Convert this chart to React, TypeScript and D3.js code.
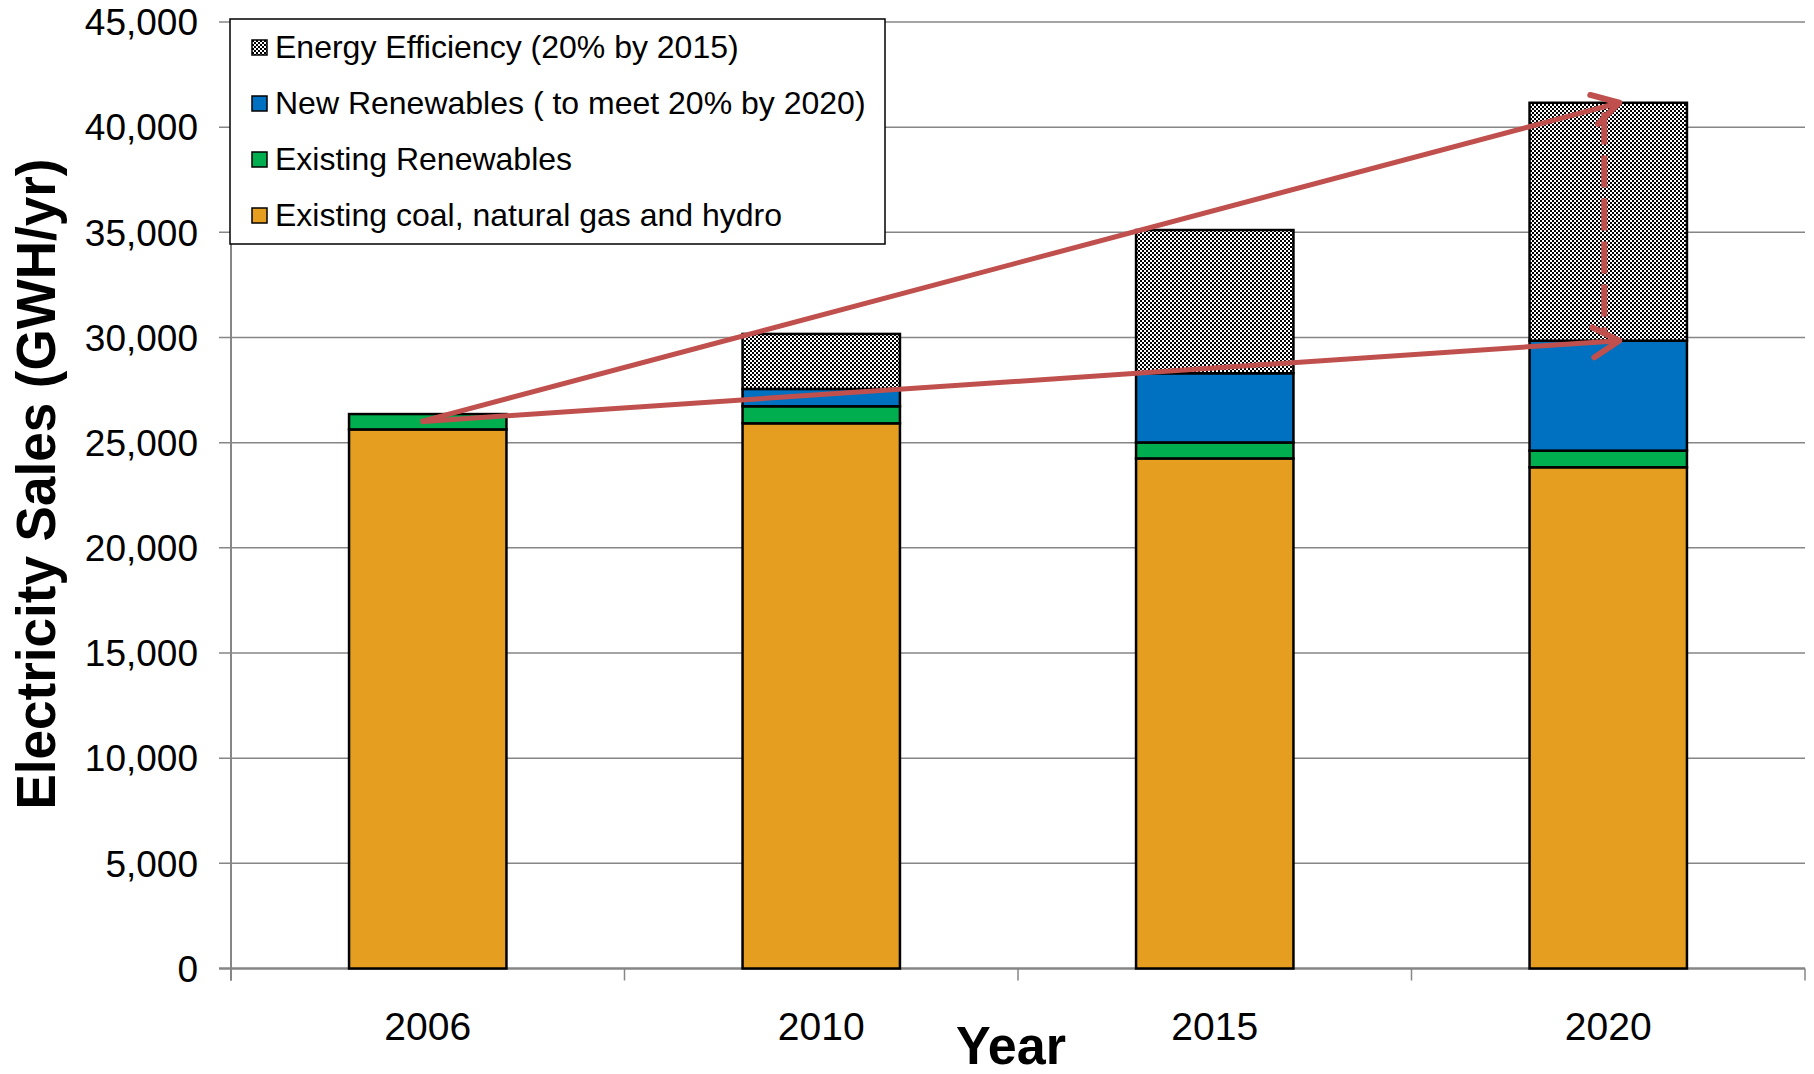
import React, { useEffect } from "react"
import * as d3 from "d3"

// categories and stacked values (GWH/yr)
const years = ["2006", "2010", "2015", "2020"]
const coalGasHydro = [25630, 25920, 24250, 23830]
const existingRenewables = [730, 810, 760, 790]
const newRenewables = [0, 825, 3290, 5230]
const energyEfficiency = [0, 2615, 6810, 11310]

const seriesKeys = ["coal", "existingRen", "newRen", "efficiency"]
const seriesNames: Record<string, string> = {
  efficiency: "Energy Efficiency (20% by 2015)",
  newRen: "New Renewables ( to meet 20% by 2020)",
  existingRen: "Existing Renewables",
  coal: "Existing coal, natural gas and hydro",
}
const legendOrder = ["efficiency", "newRen", "existingRen", "coal"]

const yTicks = [0, 5000, 10000, 15000, 20000, 25000, 30000, 35000, 40000, 45000]

// red trend annotations (data space)
const trendStart = { year: "2006", value: 26000 }
const trendEnds = [
  { year: "2020", value: 41160 },
  { year: "2020", value: 29850 },
]
const efficiencyGap = { year: "2020", from: 40700, to: 30200 }

const W = 1814
const H = 1074
const margin = { top: 22, right: 9, bottom: 105.5, left: 231 }
const FONT = "'Liberation Sans', Arial, sans-serif"
const GRID = "#868686"
const RED = "#C0504D"

const fills: Record<string, string> = {
  coal: "#E59E1F",
  existingRen: "#00AE50",
  newRen: "#0070C0",
  efficiency: "url(#checker)",
}

export default function App() {
  useEffect(() => {
    document.body.style.margin = "0"
  }, [])

  const rows = years.map((year, i) => ({
    year,
    coal: coalGasHydro[i],
    existingRen: existingRenewables[i],
    newRen: newRenewables[i],
    efficiency: energyEfficiency[i],
  }))
  const stacked = d3.stack<any>().keys(seriesKeys)(rows)

  const x = d3
    .scaleBand<string>()
    .domain(years)
    .range([margin.left, W - margin.right])
    .paddingInner(0.6)
    .paddingOuter(0.3)
  const y = d3
    .scaleLinear()
    .domain([0, 45000])
    .range([H - margin.bottom, margin.top])

  const xCenter = (yr: string) => (x(yr) as number) + x.bandwidth() / 2
  const y0 = y(0)
  const step = x.step()
  const boundaries = d3.range(years.length + 1).map((i) => margin.left + i * step)

  return (
    <svg width={W} height={H} style={{ display: "block", fontFamily: FONT }}>
      <defs>
        <pattern id="checker" width={4} height={4} patternUnits="userSpaceOnUse">
          <rect width={4} height={4} fill="#fff" />
          <rect width={2} height={2} fill="#000" />
          <rect x={2} y={2} width={2} height={2} fill="#000" />
        </pattern>
        <marker
          id="head"
          markerUnits="userSpaceOnUse"
          viewBox="-34 -22 40 44"
          markerWidth={40}
          markerHeight={44}
          refX={0}
          refY={0}
          orient="auto"
        >
          <path
            d="M-26,-15L0,0L-26,15"
            fill="none"
            stroke={RED}
            strokeWidth={6}
            strokeLinecap="round"
            strokeLinejoin="round"
          />
        </marker>
      </defs>

      {/* gridlines */}
      {yTicks.map((t) => (
        <line
          key={t}
          x1={margin.left - 12}
          x2={W - margin.right}
          y1={y(t)}
          y2={y(t)}
          stroke={GRID}
          strokeWidth={t === 0 ? 2.5 : 1.5}
        />
      ))}

      {/* y axis */}
      <line x1={margin.left} x2={margin.left} y1={margin.top} y2={y0 + 12} stroke={GRID} strokeWidth={2} />
      {yTicks.map((t) => (
        <text key={t} x={margin.left - 33} y={y(t)} dy="0.36em" textAnchor="end" fontSize={37} fill="#000">
          {d3.format(",")(t)}
        </text>
      ))}

      {/* x axis ticks */}
      {boundaries.map((bx, i) => (
        <line key={i} x1={bx} x2={bx} y1={y0} y2={y0 + 12} stroke={GRID} strokeWidth={1.5} />
      ))}
      {years.map((yr) => (
        <text key={yr} x={xCenter(yr)} y={1040} textAnchor="middle" fontSize={39} fill="#000">
          {yr}
        </text>
      ))}

      {/* stacked bars */}
      {stacked.map((layer) => (
        <g key={layer.key}>
          {layer
            .filter((d) => d[1] - d[0] > 0)
            .map((d) => (
              <rect
                key={d.data.year}
                x={x(d.data.year)}
                y={y(d[1])}
                width={x.bandwidth()}
                height={y(d[0]) - y(d[1])}
                fill={fills[layer.key]}
                stroke="#000"
                strokeWidth={2.5}
              />
            ))}
        </g>
      ))}

      {/* axis titles */}
      <text
        transform={`translate(55,484) rotate(-90)`}
        textAnchor="middle"
        fontSize={56}
        fontWeight="bold"
        textLength={651}
        lengthAdjust="spacingAndGlyphs"
        fill="#000"
      >
        Electricity Sales (GWH/yr)
      </text>
      <text
        x={1011}
        y={1064}
        textAnchor="middle"
        fontSize={53}
        fontWeight="bold"
        textLength={110}
        lengthAdjust="spacingAndGlyphs"
        fill="#000"
      >
        Year
      </text>

      {/* legend */}
      <g>
        <rect x={230} y={19} width={655} height={225} fill="#fff" stroke="#000" strokeWidth={1.5} />
        {legendOrder.map((k, i) => {
          const base = 58 + i * 56
          return (
            <g key={k}>
              <rect
                x={252}
                y={base - 18}
                width={15}
                height={15}
                fill={fills[k]}
                stroke="#000"
                strokeWidth={1.5}
              />
              <text x={275} y={base} fontSize={32} fill="#000">
                {seriesNames[k]}
              </text>
            </g>
          )
        })}
      </g>

      {/* trend arrows */}
      {trendEnds.map((e, i) => (
        <line
          key={i}
          x1={xCenter(trendStart.year) - 7}
          y1={y(trendStart.value)}
          x2={xCenter(e.year) + 11}
          y2={y(e.value)}
          stroke={RED}
          strokeWidth={5}
          markerEnd="url(#head)"
        />
      ))}
      <line
        x1={xCenter(efficiencyGap.year) - 4}
        x2={xCenter(efficiencyGap.year) - 4}
        y1={y(efficiencyGap.from)}
        y2={y(efficiencyGap.to)}
        stroke={RED}
        strokeWidth={6}
        strokeDasharray="32 11"
      />
    </svg>
  )
}
